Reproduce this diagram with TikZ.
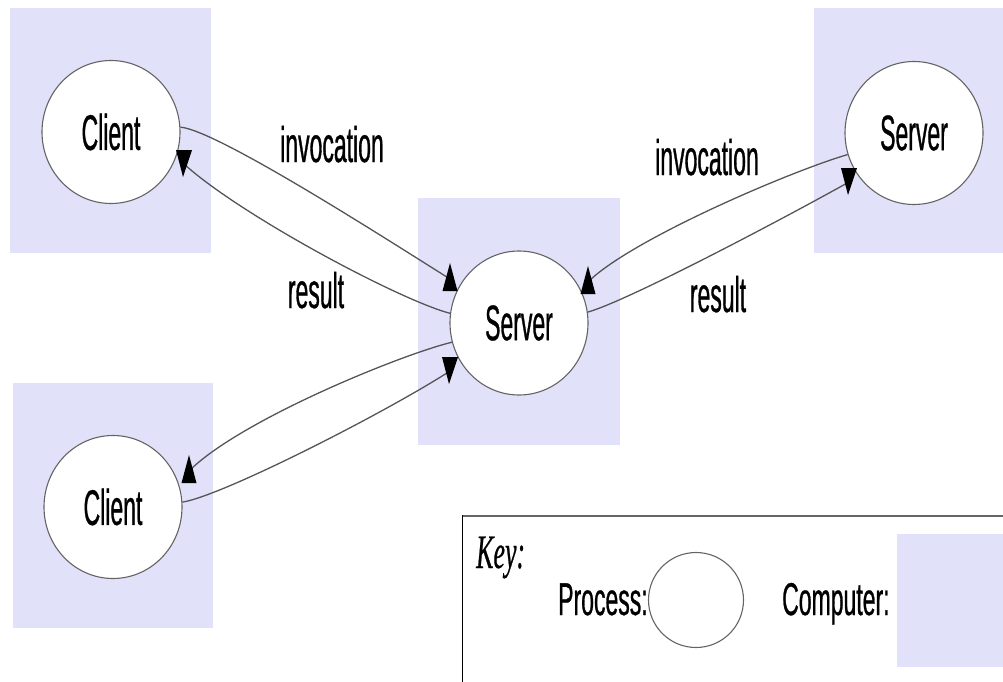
\documentclass[tikz,border=0pt]{standalone}
\usepackage{fontspec}
\usetikzlibrary{shapes.geometric}
\newfontfamily\labelfont{Liberation Sans}[FakeStretch=0.46,FakeBold=0.6]
\newfontfamily\keysans{Liberation Sans}[FakeStretch=0.5,FakeBold=0.6]
\newfontfamily\keyserif{Liberation Serif}[FakeStretch=0.54,FakeBold=0.4]
\definecolor{machine}{RGB}{225,225,250}
\definecolor{wire}{RGB}{85,85,85}
\definecolor{rim}{RGB}{100,100,100}
\tikzset{
  computer/.style={fill=machine, draw=none},
  process/.style={ellipse, draw=rim, line width=1.1pt, fill=white, inner sep=0pt,
                  minimum width=138pt, minimum height=143pt,
                  font=\labelfont\fontsize{50}{60}\selectfont},
  msg/.style={draw=wire, line width=1.3pt},
  lbl/.style={anchor=base, inner sep=0pt, font=\labelfont\fontsize{50}{60}\selectfont},
  keytxt/.style={anchor=base west, inner sep=0pt, font=\keysans\fontsize{46}{54}\selectfont},
  tipup/.pic={\fill[black] (-7.5,12) -- (7.5,12) -- (0,-16) -- cycle;},
  tipdown/.pic={\fill[black] (-8,-14) -- (8,-14) -- (-1,13) -- cycle;}
}
\begin{document}
\begin{tikzpicture}[x=1pt, y=-1pt]
\useasboundingbox (0,0) rectangle (1003,682);

% computers
\fill[computer] (10,8) rectangle (211,253);
\fill[computer] (418,198) rectangle (620,445);
\fill[computer] (814,8) rectangle (1003,253);
\fill[computer] (13,383) rectangle (213,628);

% processes
\node[process] (c1) at (111,132) {Client};
\node[process, minimum height=144pt] (s0) at (519,323) {Server};
\node[process] (s1) at (914,133) {Server};
\node[process] (c2) at (113,507) {Client};

% arrow tip positions
\coordinate (tA) at (450,279);
\coordinate (tB) at (184,164);
\coordinate (tC) at (588,282);
\coordinate (tD) at (849,182);
\coordinate (tE) at (189,471);
\coordinate (tF) at (450,371);

% messages
\draw[msg] (c1.4)   .. controls +(36,3)   and +(-70,-44) .. (tA);
\draw[msg] (s0.172) .. controls +(-50,-13) and +(56,51)  .. (tB);
\draw[msg] (s1.198) .. controls +(-58,17) and +(42,-42)  .. (tC);
\draw[msg] (s0.9)   .. controls +(42,-12) and +(-59,33)  .. (tD);
\draw[msg] (s0.196) .. controls +(-50,12) and +(51,-51)  .. (tE);
\draw[msg] (c2.4)   .. controls +(42,-7)  and +(-60,39)  .. (tF);

\pic at (tA) {tipup};
\pic at (tB) {tipdown};
\pic at (tC) {tipup};
\pic at (tD) {tipdown};
\pic at (tE) {tipup};
\pic at (tF) {tipdown};

% message labels
\node[lbl] (inv1) at (332,162) {invocation};
\node[lbl] (res1) at (316,308) {result};
\node[lbl] (inv2) at (707,175) {invocation};
\node[lbl] (res2) at (718,312) {result};

% key
\draw[black!60, line width=2.4pt] (462,516) -- (1003,516);
\draw[black, line width=1.3pt] (462.5,515) -- (462.5,682);
\node[anchor=base west, inner sep=0pt, font=\keyserif\itshape\fontsize{48}{56}\selectfont] (key) at (476,568) {Key:};
\node[keytxt] (kp) at (558,615) {Process:};
\node[ellipse, draw=rim, line width=1.1pt, fill=white, inner sep=0pt,
      minimum width=95pt, minimum height=95pt] (kc) at (696,600) {};
\node[keytxt] (kcomp) at (782,615) {Computer:};
\fill[computer] (897,534) rectangle (1003,667);
\end{tikzpicture}
\end{document}
